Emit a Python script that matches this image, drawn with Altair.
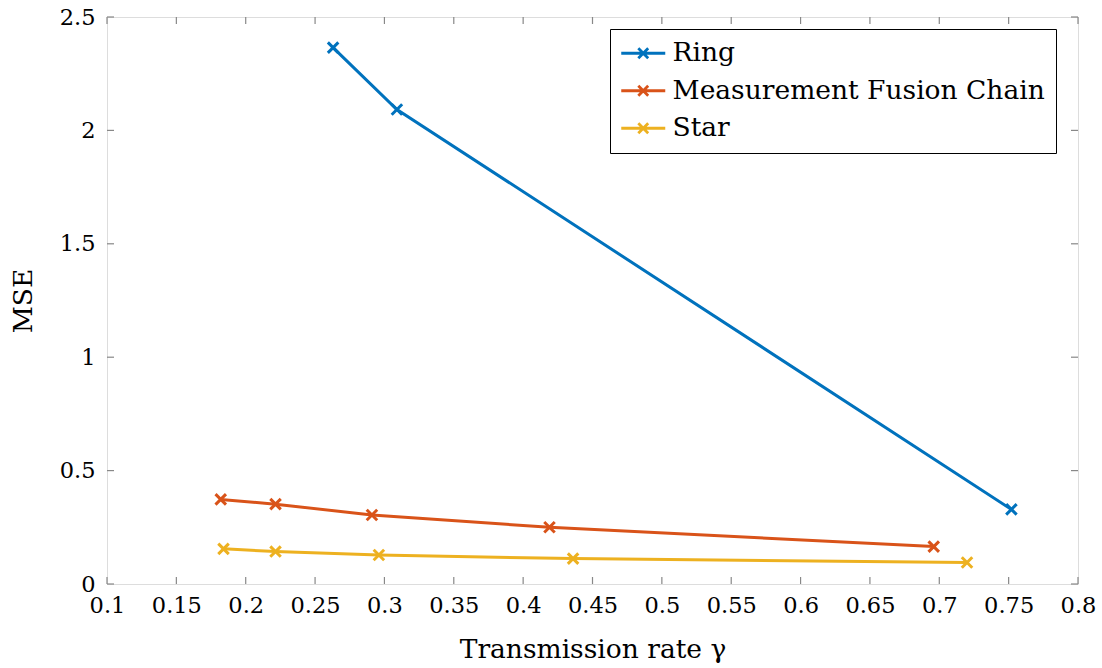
import altair as alt
import pandas as pd

series_names = ["Ring", "Measurement Fusion Chain", "Star"]
series_colors = ["#0072BD", "#D95319", "#EDB120"]

ring_x = [0.263, 0.309, 0.752]
ring_y = [2.365, 2.092, 0.329]
mfc_x = [0.182, 0.2215, 0.291, 0.419, 0.696]
mfc_y = [0.373, 0.352, 0.304, 0.250, 0.165]
star_x = [0.184, 0.2215, 0.296, 0.436, 0.720]
star_y = [0.155, 0.143, 0.128, 0.112, 0.095]

x_ticks = [0.1, 0.15, 0.2, 0.25, 0.3, 0.35, 0.4, 0.45, 0.5, 0.55, 0.6, 0.65, 0.7, 0.75, 0.8]
y_ticks = [0, 0.5, 1, 1.5, 2, 2.5]

rows = []
for name, xs, ys in [(series_names[0], ring_x, ring_y),
                     (series_names[1], mfc_x, mfc_y),
                     (series_names[2], star_x, star_y)]:
    for i, (a, b) in enumerate(zip(xs, ys)):
        rows.append({"series": name, "gamma": a, "mse": b, "order": i})
df = pd.DataFrame(rows)

W, H = 971, 567
FONT = "DejaVu Serif"

xscale = alt.Scale(domain=[0.1, 0.8], nice=False, zero=False)
yscale = alt.Scale(domain=[0, 2.5], nice=False)
color = alt.Color(
    "series:N",
    scale=alt.Scale(domain=series_names, range=series_colors),
    legend=alt.Legend(
        title=None,
        orient="none",
        legendX=503,
        legendY=12,
        strokeColor="black",
        fillColor="white",
        padding=11,
        labelFont=FONT,
        labelFontSize=26.5,
        labelColor="black",
        labelLimit=0,
        symbolType="M-2,0L2,0M-0.45,-0.45L0.45,0.45M-0.45,0.45L0.45,-0.45",
        symbolSize=484,
        symbolStrokeWidth=2.8,
        symbolFillColor="transparent",
        symbolOffset=9,
        labelOffset=16,
        rowPadding=10.5,
        cornerRadius=0,
    ),
)

xaxis = alt.Axis(values=x_ticks, ticks=False, grid=False, domain=False,
                 format="~g",
                 labelFont=FONT, labelFontSize=22.5, labelColor="black",
                 labelPadding=10, title="Transmission rate γ",
                 titleFont=FONT, titleFontSize=26.5, titleFontWeight="normal",
                 titleColor="black", titlePadding=20, labelFlush=False,
                 labelOverlap=False)
yaxis = alt.Axis(values=y_ticks, ticks=False, grid=False, domain=False,
                 format="~g",
                 labelFont=FONT, labelFontSize=22.5, labelColor="black",
                 labelPadding=12, title="MSE",
                 titleFont=FONT, titleFontSize=26.5, titleFontWeight="normal",
                 titleColor="black", titlePadding=22, labelFlush=False)

base = alt.Chart(df)
lines = base.mark_line(strokeWidth=3).encode(
    x=alt.X("gamma:Q", scale=xscale, axis=xaxis),
    y=alt.Y("mse:Q", scale=yscale, axis=yaxis),
    color=color,
    order="order:Q",
)
points = base.mark_point(
    shape="M-1,-1L1,1M-1,1L1,-1", size=110, strokeWidth=3, filled=False, opacity=1
).encode(
    x=alt.X("gamma:Q", scale=xscale),
    y=alt.Y("mse:Q", scale=yscale),
    color=alt.Color("series:N", scale=alt.Scale(domain=series_names, range=series_colors), legend=None),
)

xt = pd.DataFrame({"t": x_ticks})
yt = pd.DataFrame({"t": y_ticks})
tick_color = "#888888"
xb = alt.Chart(xt).mark_rule(color=tick_color, strokeWidth=1.2).encode(
    x=alt.X("t:Q", scale=xscale), y=alt.value(H), y2=alt.value(H - 7))
xtop = alt.Chart(xt).mark_rule(color=tick_color, strokeWidth=1.2).encode(
    x=alt.X("t:Q", scale=xscale), y=alt.value(0), y2=alt.value(7))
yl = alt.Chart(yt).mark_rule(color=tick_color, strokeWidth=1.2).encode(
    y=alt.Y("t:Q", scale=yscale), x=alt.value(0), x2=alt.value(7))
yr = alt.Chart(yt).mark_rule(color=tick_color, strokeWidth=1.2).encode(
    y=alt.Y("t:Q", scale=yscale), x=alt.value(W), x2=alt.value(W - 7))

chart = alt.layer(xb, xtop, yl, yr, lines, points).properties(
    width=W, height=H,
    autosize=alt.AutoSizeParams(type="none"),
    padding={"left": 107, "top": 17, "right": 24, "bottom": 84},
).configure_view(stroke="black", strokeWidth=1.3).configure(background="white")

chart.save("out.html", embed_options={"renderer": "svg", "actions": False})
